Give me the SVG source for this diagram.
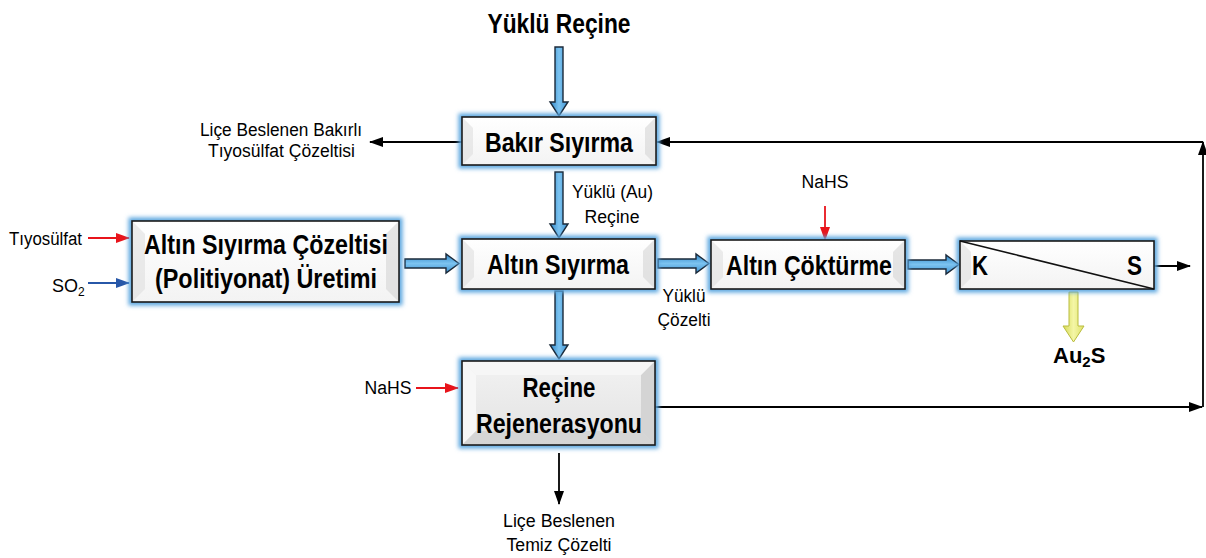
<svg xmlns="http://www.w3.org/2000/svg" width="1206" height="558" viewBox="0 0 1206 558">
<defs>
<style>
text{font-family:"Liberation Sans Narrow","Liberation Sans",Arial,sans-serif;fill:#000}
.b{font-weight:bold;font-size:27px}
.s{font-size:18px}
.box{fill:url(#boxg);stroke:#1a1a1a;stroke-width:1.6}
.boxg{fill:url(#boxg2);stroke:#1a1a1a;stroke-width:1.6}
.glow{fill:none;stroke:#5aa6df;stroke-width:7;filter:url(#blur)}
.bvl{fill:#dcdcdc;opacity:0.55}
.bvr{fill:#d2d2d2;opacity:0.55}
.ba{fill:url(#blueg);stroke:#1b2a3a;stroke-width:1.4;stroke-linejoin:miter}
.k{stroke:#000;stroke-width:1.8;fill:none}
.r{stroke:#e8141b;stroke-width:1.8;fill:none}
.u{stroke:#2757a8;stroke-width:1.8;fill:none}
</style>
<filter id="blur" x="-10%" y="-30%" width="120%" height="160%"><feGaussianBlur stdDeviation="2.2"/></filter>
<linearGradient id="boxg" x1="0" y1="0" x2="0" y2="1"><stop offset="0" stop-color="#ffffff"/><stop offset="1" stop-color="#f3f3f3"/></linearGradient>
<linearGradient id="boxg2" x1="0" y1="0" x2="0" y2="1"><stop offset="0" stop-color="#f2f2f2"/><stop offset="1" stop-color="#e2e2e2"/></linearGradient>
<linearGradient id="blueg" x1="0" y1="0" x2="1" y2="0"><stop offset="0" stop-color="#2f86c8"/><stop offset="0.5" stop-color="#7cc3f0"/><stop offset="1" stop-color="#3f93d2"/></linearGradient>
<linearGradient id="bluegv" x1="0" y1="0" x2="0" y2="1"><stop offset="0" stop-color="#2f86c8"/><stop offset="0.5" stop-color="#7cc3f0"/><stop offset="1" stop-color="#3f93d2"/></linearGradient>
<linearGradient id="yelg" x1="0" y1="0" x2="1" y2="0"><stop offset="0" stop-color="#d6da55"/><stop offset="0.5" stop-color="#f4f6a6"/><stop offset="1" stop-color="#dfe26a"/></linearGradient>
<marker id="mk" markerUnits="userSpaceOnUse" markerWidth="14" markerHeight="12" viewBox="0 0 14 12" refX="13" refY="6" orient="auto"><path d="M0,1 L14,6 L0,11 Z" fill="#000"/></marker>
<marker id="mr" markerUnits="userSpaceOnUse" markerWidth="14" markerHeight="12" viewBox="0 0 14 12" refX="13" refY="6" orient="auto"><path d="M0,1 L14,6 L0,11 Z" fill="#e8141b"/></marker>
<marker id="mu" markerUnits="userSpaceOnUse" markerWidth="14" markerHeight="12" viewBox="0 0 14 12" refX="13" refY="6" orient="auto"><path d="M0,1 L14,6 L0,11 Z" fill="#2757a8"/></marker>
</defs>
<rect width="1206" height="558" fill="#ffffff"/>

<g id="connectors">
<path class="ba" d="M555,47 L563,47 L563,102 L568,102 L559,116 L550,102 L555,102 Z"/>
<path class="ba" d="M555,172 L563,172 L563,224 L568,224 L559,238 L550,224 L555,224 Z"/>
<path class="ba" d="M555,291 L563,291 L563,345 L568,345 L559,359 L550,345 L555,345 Z"/>
<path class="ba" style="fill:url(#bluegv)" d="M405,259 L446,259 L446,254 L459,263.5 L446,273 L446,268 L405,268 Z"/>
<path class="ba" style="fill:url(#bluegv)" d="M658,259 L696,259 L696,254 L709,263.5 L696,273 L696,268 L658,268 Z"/>
<path class="ba" style="fill:url(#bluegv)" d="M908,260 L946,260 L946,255 L959,264.5 L946,274 L946,269 L908,269 Z"/>
<path style="fill:url(#yelg);stroke:#b9bc3e;stroke-width:1" d="M1069,292 L1078,292 L1078,326 L1084,326 L1073.5,342 L1063,326 L1069,326 Z"/>
<line class="k" x1="462" y1="142" x2="370" y2="142" marker-end="url(#mk)"/>
<line class="k" x1="655" y1="407" x2="1202" y2="407" marker-end="url(#mk)"/>
<line class="k" x1="1203" y1="407" x2="1203" y2="142" marker-end="url(#mk)"/>
<line class="k" x1="1203" y1="142" x2="657" y2="142" marker-end="url(#mk)"/>
<line class="k" x1="1154" y1="266" x2="1190" y2="266" marker-end="url(#mk)"/>
<line class="k" x1="559" y1="453" x2="559" y2="504" marker-end="url(#mk)"/>
<line class="r" x1="88" y1="238" x2="129" y2="238" marker-end="url(#mr)"/>
<line class="u" x1="88" y1="283" x2="129" y2="283" marker-end="url(#mu)"/>
<line class="r" x1="416" y1="388" x2="458" y2="388" marker-end="url(#mr)"/>
<line class="r" x1="825" y1="206" x2="825" y2="240" marker-end="url(#mr)"/>
</g>

<g id="bakir">
<rect class="glow" x="462" y="117" width="194" height="48"/>
<rect class="box" x="462" y="117" width="194" height="48"/>
<polygon class="bvl" points="463,118 473,128 473,154 463,164"/>
<polygon class="bvr" points="655,118 645,128 645,154 655,164"/>
<text class="b" x="559" y="152" text-anchor="middle" textLength="148" lengthAdjust="spacingAndGlyphs">Bakır Sıyırma</text>
</g>

<g id="politiyonat">
<rect class="glow" x="132" y="221" width="267" height="81"/>
<rect class="box" x="132" y="221" width="267" height="81"/>
<polygon class="bvl" points="133,222 145,234 145,289 133,301"/>
<polygon class="bvr" points="398,222 386,234 386,289 398,301"/>
<text class="b" x="266" y="254" text-anchor="middle" textLength="244" lengthAdjust="spacingAndGlyphs">Altın Sıyırma Çözeltisi</text>
<text class="b" x="266" y="288" text-anchor="middle" textLength="222" lengthAdjust="spacingAndGlyphs">(Politiyonat) Üretimi</text>
</g>

<g id="altin-siyirma">
<rect class="glow" x="462" y="239" width="193" height="50"/>
<rect class="box" x="462" y="239" width="193" height="50"/>
<polygon class="bvl" points="463,240 474,251 474,277 463,288"/>
<polygon class="bvr" points="654,240 643,251 643,277 654,288"/>
<text class="b" x="558" y="274" text-anchor="middle" textLength="142" lengthAdjust="spacingAndGlyphs">Altın Sıyırma</text>
</g>

<g id="altin-cokturme">
<rect class="glow" x="711" y="240" width="194" height="49"/>
<rect class="box" x="711" y="240" width="194" height="49"/>
<polygon class="bvl" points="712,241 723,252 723,277 712,288"/>
<polygon class="bvr" points="904,241 893,252 893,277 904,288"/>
<text class="b" x="809" y="275" text-anchor="middle" textLength="166" lengthAdjust="spacingAndGlyphs">Altın Çöktürme</text>
</g>

<g id="ks">
<rect class="glow" x="960" y="241" width="194" height="48"/>
<rect class="box" x="960" y="241" width="194" height="48"/>
<polygon class="bvl" points="961,242 971,252 971,278 961,288"/>
<line x1="960" y1="241" x2="1154" y2="289" stroke="#111" stroke-width="1.5"/>
<text class="b" x="972" y="275" textLength="16" lengthAdjust="spacingAndGlyphs">K</text>
<text class="b" x="1142" y="275" text-anchor="end" textLength="15" lengthAdjust="spacingAndGlyphs">S</text>
</g>

<g id="rejenerasyon">
<rect class="glow" x="462" y="361" width="193" height="84"/>
<rect class="boxg" x="462" y="361" width="193" height="84"/>
<polygon fill="#f7f7f7" points="463,362 476,375 476,431 463,444"/>
<polygon fill="#d4d4d4" points="654,362 641,375 641,431 654,444"/>
<polygon fill="#fafafa" opacity="0.6" points="463,362 654,362 641,375 476,375"/>
<polygon fill="#cccccc" opacity="0.6" points="463,444 654,444 641,431 476,431"/>
<text class="b" x="559" y="397" text-anchor="middle" textLength="73" lengthAdjust="spacingAndGlyphs">Reçine</text>
<text class="b" x="559" y="433" text-anchor="middle" textLength="166" lengthAdjust="spacingAndGlyphs">Rejenerasyonu</text>
</g>

<g id="labels">
<text class="b" x="559" y="33" text-anchor="middle" textLength="143" lengthAdjust="spacingAndGlyphs">Yüklü Reçine</text>
<text class="s" x="362" y="136" text-anchor="end" textLength="162" lengthAdjust="spacingAndGlyphs">Liçe Beslenen Bakırlı</text>
<text class="s" x="355" y="157" text-anchor="end" textLength="147" lengthAdjust="spacingAndGlyphs">Tıyosülfat Çözeltisi</text>
<text class="s" x="572" y="198" textLength="81" lengthAdjust="spacingAndGlyphs">Yüklü (Au)</text>
<text class="s" x="612" y="223" text-anchor="middle" textLength="55" lengthAdjust="spacingAndGlyphs">Reçine</text>
<text class="s" x="82" y="245" text-anchor="end" textLength="73" lengthAdjust="spacingAndGlyphs">Tıyosülfat</text>
<text class="s" x="52" y="292">SO<tspan font-size="12" dy="4">2</tspan></text>
<text class="s" x="825" y="188" text-anchor="middle" textLength="47" lengthAdjust="spacingAndGlyphs">NaHS</text>
<text class="s" x="684" y="302" text-anchor="middle" textLength="43" lengthAdjust="spacingAndGlyphs">Yüklü</text>
<text class="s" x="684" y="326" text-anchor="middle" textLength="53" lengthAdjust="spacingAndGlyphs">Çözelti</text>
<text class="s" x="388" y="394" text-anchor="middle" textLength="47" lengthAdjust="spacingAndGlyphs">NaHS</text>
<text class="b" x="1053" y="363" style="font-size:22px">Au<tspan font-size="15" dy="4">2</tspan><tspan dy="-4">S</tspan></text>
<text class="s" x="559" y="527" text-anchor="middle" textLength="112" lengthAdjust="spacingAndGlyphs">Liçe Beslenen</text>
<text class="s" x="559" y="551" text-anchor="middle" textLength="105" lengthAdjust="spacingAndGlyphs">Temiz Çözelti</text>
</g>
</svg>
